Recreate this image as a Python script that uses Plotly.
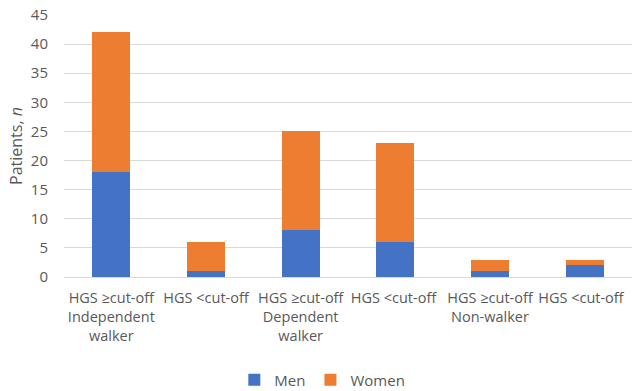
import plotly.graph_objects as go

categories = [
    "HGS ≥cut-off<br>Independent<br>walker",
    "HGS <cut-off",
    "HGS ≥cut-off<br>Dependent<br>walker",
    "HGS <cut-off ",
    "HGS ≥cut-off<br>Non-walker",
    "HGS <cut-off  ",
]
men = [18, 1, 8, 6, 1, 2]
women = [24, 5, 17, 17, 2, 1]

font_family = "Open Sans, Liberation Sans, sans-serif"
text_color = "#595959"

fig = go.Figure()
fig.add_trace(go.Bar(name="Men", x=categories, y=men, marker=dict(color="#4472C4", line=dict(width=0))))
fig.add_trace(go.Bar(name="Women", x=categories, y=women, marker=dict(color="#ED7D31", line=dict(width=0))))

fig.update_layout(
    barmode="stack",
    bargap=0.6,
    width=632,
    height=391,
    margin=dict(l=64, r=0, t=15, b=114),
    paper_bgcolor="white",
    plot_bgcolor="white",
    font=dict(family=font_family, size=14.5, color=text_color),
    legend=dict(
        orientation="h",
        traceorder="normal",
        x=0.51,
        xanchor="center",
        xref="container",
        y=0.028,
        yanchor="middle",
        yref="container",
        font=dict(size=15, color=text_color),
        itemwidth=30,
    ),
    xaxis=dict(
        automargin=False,
        showline=True,
        linecolor="#D9D9D9",
        linewidth=1,
        ticks="",
        ticklabelstandoff=8,
        tickfont=dict(size=14.5, color=text_color),
        tickangle=0,
    ),
    yaxis=dict(
        automargin=False,
        range=[0, 45],
        dtick=5,
        showgrid=True,
        gridcolor="#D9D9D9",
        gridwidth=1,
        zeroline=False,
        ticks="",
        ticklabelstandoff=15,
        tickfont=dict(size=15, color=text_color),
        title=dict(text="Patients, <i>n</i>", font=dict(size=16, color=text_color), standoff=4),
    ),
)

fig.write_html("out.html")
